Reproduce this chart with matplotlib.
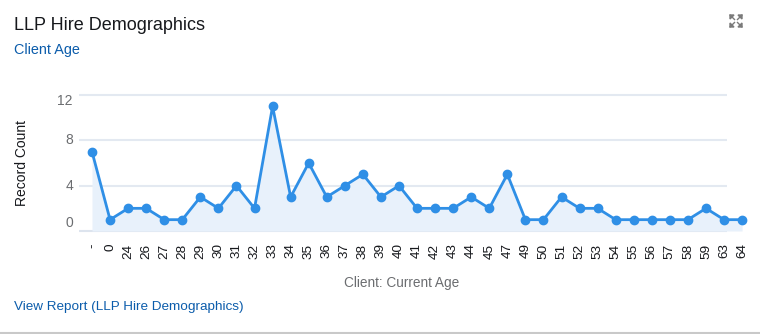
import matplotlib
matplotlib.use("Agg")
import matplotlib.pyplot as plt
from matplotlib.lines import Line2D
from matplotlib.patches import Polygon
from matplotlib.transforms import blended_transform_factory, offset_copy

plt.rcParams['font.family'] = ['Liberation Sans', 'DejaVu Sans']

categories = ['-', '0', '24', '26', '27', '28', '29', '30', '31', '32', '33', '34', '35', '36',
              '37', '38', '39', '40', '41', '42', '43', '44', '45', '47', '49', '50', '51', '52',
              '53', '54', '55', '56', '57', '58', '59', '63', '64']
record_count = [7, 1, 2, 2, 1, 1, 3, 2, 4, 2, 11, 3, 6, 3, 4, 5, 3, 4, 2, 2, 2, 3, 2, 5, 1, 1,
                3, 2, 2, 1, 1, 1, 1, 1, 2, 1, 1]
y_ticks = [0, 4, 8, 12]

W, H = 760, 334
fig = plt.figure(figsize=(W / 100, H / 100), dpi=100)

# axes in pixel positions
ax_left, ax_right, ax_top, ax_bottom = 79, 743, 95, 231
ax = fig.add_axes([ax_left / W, 1 - ax_bottom / H, (ax_right - ax_left) / W, (ax_bottom - ax_top) / H])

x = list(range(len(categories)))
line_color = '#2f8fe6'
ax.fill_between(x, record_count, 0, color='#e8f1fb', zorder=1, linewidth=0)
ax.plot(x, record_count, color=line_color, lw=2, marker='o', ms=6, zorder=3, clip_on=False)

ax.set_xlim(-0.72, 36.05)
ax.set_ylim(0, 12)

# gridlines (end before last point, like reference)
for yt in y_ticks:
    ax.hlines(yt, -0.72, 35.15, color='#e3e9f1' if yt else '#dde4ee', lw=1.5, zorder=0, clip_on=False)

for s in ax.spines.values():
    s.set_visible(False)

# y tick labels (outer labels pulled inward as in the reference)
ax.set_yticks([])
ytrans = blended_transform_factory(ax.transAxes, ax.transData)
shift = {0: 8, 4: 0, 8: 0, 12: -6}
for yt in y_ticks:
    t = offset_copy(ytrans, fig=fig, x=0, y=shift[yt] * 0.72, units='points')
    ax.text(-6 / (ax_right - ax_left), yt, str(yt), transform=t, ha='right', va='center',
            fontsize=10, color='#6b6d70')

ax.set_xticks(x)
ax.set_xticklabels(categories, rotation=90, fontsize=9.7, color='#16181c')
ax.tick_params(axis='x', length=0, pad=9)

ax.set_ylabel('Record Count', fontsize=10, color='#16181c')
ax.set_xlabel('Client: Current Age', fontsize=9.8, color='#6b6d70')
ax.xaxis.set_label_coords((402 - ax_left) / (ax_right - ax_left), 1 - (276 - ax_top) / (ax_bottom - ax_top))
ax.yaxis.set_label_coords((29 - ax_left) / (ax_right - ax_left), 1 - (163 - ax_top) / (ax_bottom - ax_top))

# header texts
fig.text(14 / W, 1 - 25 / H, 'LLP Hire Demographics', fontsize=13, color='#16181c', va='center', ha='left')
fig.text(14 / W, 1 - 50 / H, 'Client Age', fontsize=10.4, color='#0b5cab', va='center', ha='left')
fig.text(14 / W, 1 - 307 / H, 'View Report (LLP Hire Demographics)', fontsize=9.7, color='#0b5cab',
         va='center', ha='left')

# bottom border
fig.add_artist(Line2D([0, 1], [1 - 332.5 / H] * 2, color='#c9c9c9', lw=1.5))

# expand icon
cx, cy = 736, 21
icon_col = '#7a7a7a'
def px(xp, yp):
    return (xp / W, 1 - yp / H)
for dx, dy in [(-1, -1), (1, -1), (-1, 1), (1, 1)]:
    tip = (cx + dx * 6, cy + dy * 6)
    tri = [px(*tip), px(tip[0] - dx * 4, tip[1]), px(tip[0], tip[1] - dy * 4)]
    fig.add_artist(Polygon(tri, closed=True, color=icon_col, transform=fig.transFigure))
    a = px(cx + dx * 1.5, cy + dy * 1.5)
    b = px(*tip)
    fig.add_artist(Line2D([a[0], b[0]], [a[1], b[1]], color=icon_col, lw=1.0))

fig.savefig('out.png', dpi=100)
